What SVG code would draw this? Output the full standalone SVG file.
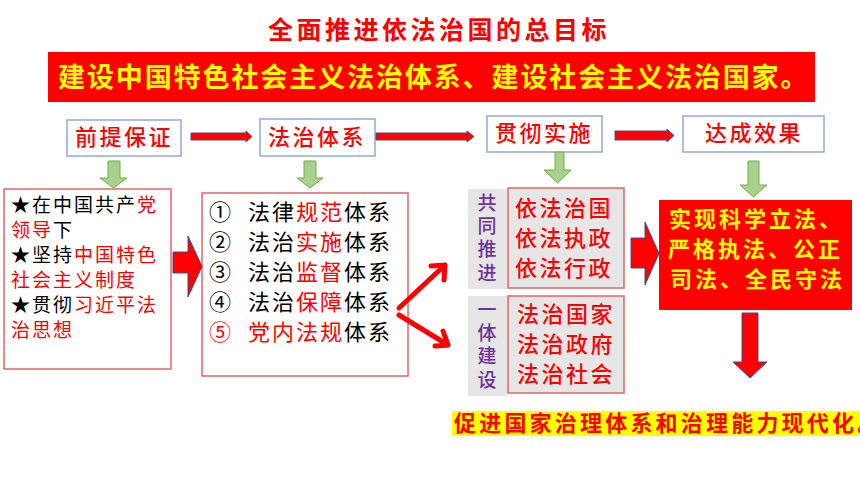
<svg xmlns="http://www.w3.org/2000/svg" width="860" height="484" viewBox="0 0 860 484">
<style>
text{font-family:"Noto Sans CJK SC","Noto Sans",sans-serif;}
.topbox{fill:#ffffff;stroke:#8faadc;stroke-width:1.5;}
.redbox{fill:#ffffff;stroke:#e06666;stroke-width:1.5;}
.graybox{fill:#e7e6e6;stroke:none;}
.grayred{fill:#e7e6e6;stroke:#e06666;stroke-width:1.5;}
.toptxt{font-size:22px;fill:#ff0000;letter-spacing:2.5px;font-weight:500;}
.lefttxt{font-size:19px;fill:#000000;letter-spacing:2px;}
.listtxt{font-size:22px;fill:#000000;letter-spacing:2px;}
.num{font-size:22px;}
.r{fill:#ff0000;}
.vert{font-size:19px;fill:#7030a0;font-weight:500;writing-mode:tb;letter-spacing:4.3px;}
.gtxt{font-size:22px;fill:#ff0000;letter-spacing:2.5px;font-weight:500;}
.ytxt{font-size:22px;fill:#ffff00;letter-spacing:3px;font-weight:bold;}
.green{fill:#a9d18e;stroke:#70ad47;stroke-width:1;}
.rarrow{fill:#ff0000;stroke:#2f5597;stroke-width:1;}
.rline{fill:none;stroke:#ff0000;stroke-width:5;stroke-linecap:round;stroke-linejoin:round;}
</style>

<g id="title">
<text x="268" y="39" style="font-size:25px;fill:#ff0000;letter-spacing:3.5px;font-weight:bold;">全面推进依法治国的总目标</text>
</g>

<g id="banner">
<rect x="48" y="52" width="767" height="50" fill="#ff0000"/>
<text x="58" y="87" style="font-size:27px;fill:#ffff00;letter-spacing:1.9px;font-weight:bold;">建设中国特色社会主义法治体系、建设社会主义法治国家。</text>
</g>

<g id="n-qianti">
<rect class="topbox" x="67" y="120" width="114" height="36"/>
<text class="toptxt" x="75" y="145">前提保证</text>
</g>
<g id="n-fazhitixi">
<rect class="topbox" x="260" y="119" width="115" height="37"/>
<text class="toptxt" x="268" y="145">法治体系</text>
</g>
<g id="n-guanche">
<rect class="topbox" x="487" y="116" width="115" height="36"/>
<text class="toptxt" x="495" y="141">贯彻实施</text>
</g>
<g id="n-dacheng">
<rect class="topbox" x="683" y="116" width="141" height="36"/>
<text class="toptxt" x="705" y="141">达成效果</text>
</g>

<g id="n-left">
<rect class="redbox" x="4" y="189" width="167" height="180"/>
<text class="lefttxt" x="11" y="212">★在中国共产<tspan class="r">党</tspan></text>
<text class="lefttxt r" x="11" y="237">领导<tspan fill="#000000">下</tspan></text>
<text class="lefttxt" x="11" y="262">★坚持<tspan class="r">中国特色</tspan></text>
<text class="lefttxt r" x="11" y="287">社会主义制度</text>
<text class="lefttxt" x="11" y="312">★贯彻<tspan class="r">习近平法</tspan></text>
<text class="lefttxt r" x="11" y="337">治思想</text>
</g>

<g id="n-list">
<rect class="redbox" x="202" y="193" width="206" height="183"/>
<text class="listtxt" y="220"><tspan x="209" class="num">①</tspan><tspan x="248">法律<tspan class="r">规范</tspan>体系</tspan></text>
<text class="listtxt" y="250"><tspan x="209" class="num">②</tspan><tspan x="248">法治<tspan class="r">实施</tspan>体系</tspan></text>
<text class="listtxt" y="280"><tspan x="209" class="num">③</tspan><tspan x="248">法治<tspan class="r">监督</tspan>体系</tspan></text>
<text class="listtxt" y="310"><tspan x="209" class="num">④</tspan><tspan x="248">法治<tspan class="r">保障</tspan>体系</tspan></text>
<text class="listtxt" y="340"><tspan x="209" class="num r">⑤</tspan><tspan x="248"><tspan class="r">党内法规</tspan>体系</tspan></text>
</g>

<g id="n-gongtong">
<rect class="graybox" x="468" y="189" width="39" height="100"/>
<text class="vert" x="487" y="193">共同推进</text>
</g>
<g id="n-yifa">
<rect class="grayred" x="508" y="188" width="116" height="100"/>
<text class="gtxt" x="515" y="216">依法治国</text>
<text class="gtxt" x="515" y="246">依法执政</text>
<text class="gtxt" x="515" y="276">依法行政</text>
</g>
<g id="n-yiti">
<rect class="graybox" x="468" y="296" width="39" height="100"/>
<text class="vert" x="487" y="300">一体建设</text>
</g>
<g id="n-fazhiguojia">
<rect class="grayred" x="508" y="296" width="116" height="97"/>
<text class="gtxt" x="517" y="322">法治国家</text>
<text class="gtxt" x="517" y="352">法治政府</text>
<text class="gtxt" x="517" y="382">法治社会</text>
</g>

<g id="n-result">
<rect x="659" y="200" width="193" height="110" fill="#ff0000"/>
<text class="ytxt" x="669" y="227">实现科学立法、</text>
<text class="ytxt" x="668" y="257">严格执法、公正</text>
<text class="ytxt" x="670" y="287">司法、全民守法</text>
</g>

<g id="n-bottom">
<rect x="452" y="411" width="408" height="25" fill="#ffff00"/>
<text x="454" y="431" style="font-size:22px;fill:#ff0000;letter-spacing:3.2px;font-weight:bold;">促进国家治理体系和治理能力现代化。</text>
</g>

<g id="connectors">
<path class="rarrow" d="M191,133 H246 V131 L252,136.5 L246,142 V140 H191 Z"/>
<path class="rarrow" d="M376,133 H467 V131 L474,136.5 L467,142 V140 H376 Z"/>
<path class="rarrow" d="M615,131 H667 V129 L674,135.5 L667,142 V140 H615 Z"/>
<path class="green" d="M108,161 H120 V178 H127 L113.5,188 L100,178 H108 Z"/>
<path class="green" d="M304,161 H316 V178 H323 L310,188 L297,178 H304 Z"/>
<path class="green" d="M555,152 H564 V170 H571 L557.5,183 L544,170 H555 Z"/>
<path class="green" d="M748,161 H759 V185 H767 L753.5,197 L740,185 H748 Z"/>
<path class="rarrow" d="M173,252 H188 V236 L202,266.5 L188,297 V273 H173 Z"/>
<path class="rarrow" d="M631,238 H645 V222 L659,253.5 L645,285 V268 H631 Z"/>
<path class="rarrow" d="M742,313 H758 V362 H767 L750,378 L733,362 H742 Z"/>
<path class="rline" d="M399,308 L445,265 M431,266 L445,265 L444,280"/>
<path class="rline" d="M399,315 L448,345 M435,346 L448,345 L443,331"/>
</g>
</svg>
